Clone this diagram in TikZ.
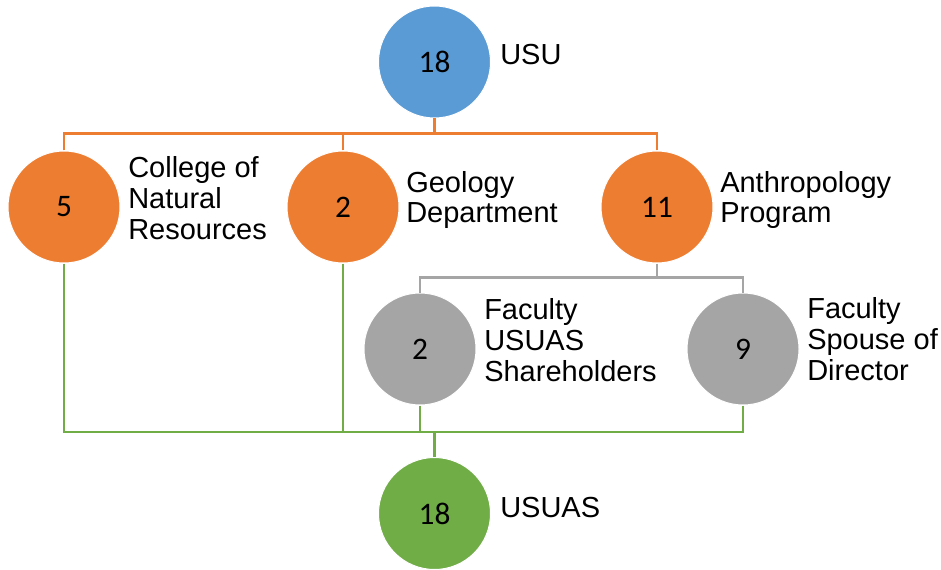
\documentclass[tikz,border=0pt]{standalone}
\usepackage{fontspec}
\setmainfont{Liberation Sans}
\newfontfamily\numfont{Carlito}
\definecolor{cblue}{HTML}{5B9BD5}
\definecolor{corange}{HTML}{ED7D31}
\definecolor{cgray}{HTML}{A5A5A5}
\definecolor{cgreen}{HTML}{70AD47}
\begin{document}
\begin{tikzpicture}[x=0.75pt,y=-0.75pt,
  bubble/.style={circle,minimum size=84pt,inner sep=0pt,draw=white,line width=0.75pt,font=\numfont\fontsize{23.5}{28}\selectfont},
  lbl/.style={anchor=base west,align=left,inner sep=0pt,font=\fontsize{21.75}{22.9}\selectfont},
  conn/.style={line width=1.6pt}]
\useasboundingbox (0,0) rectangle (941,570);
\node[bubble,fill=cblue] (usu) at (434.5,62) {18};
\node[bubble,fill=corange] (c1) at (64,207) {5};
\node[bubble,fill=corange] (c2) at (343,207) {2};
\node[bubble,fill=corange] (an) at (657,207) {11};
\node[bubble,fill=cgray] (f1) at (420,349) {2};
\node[bubble,fill=cgray] (f2) at (743,349) {9};
\node[bubble,fill=cgreen] (usuas) at (434.5,513.5) {18};
\node[lbl] (tusu) at (500,65) {USU};
\node[lbl] (tc1) at (128,239) {College of\\Natural\\Resources};
\node[lbl] (tc2) at (406,223) {Geology\\Department};
\node[lbl] (tan) at (720,223) {Anthropology\\Program};
\node[lbl] (tf1) at (484,381) {Faculty\\USUAS\\Shareholders};
\node[lbl] (tf2) at (807,380) {Faculty\\Spouse of\\Director};
\node[lbl] (tusuas) at (500,517) {USUAS};
\coordinate (ob) at (434.5,133.5);
\coordinate (gb) at (657,277.5);
\coordinate (gr) at (434.5,432);
\draw[conn,corange] (usu.south) -- (ob);
\draw[conn,corange] (c1.north) |- (ob);
\draw[conn,corange] (c2.north) |- (ob);
\draw[conn,corange] (an.north) |- (ob);
\draw[conn,cgray] (an.south) -- (gb);
\draw[conn,cgray] (f1.north) |- (gb);
\draw[conn,cgray] (f2.north) |- (gb);
\draw[conn,cgreen] (c1.south) |- (gr);
\draw[conn,cgreen] (c2.south) |- (gr);
\draw[conn,cgreen] (f1.south) |- (gr);
\draw[conn,cgreen] (f2.south) |- (gr);
\draw[conn,cgreen] (gr) -- (usuas.north);
\end{tikzpicture}
\end{document}
